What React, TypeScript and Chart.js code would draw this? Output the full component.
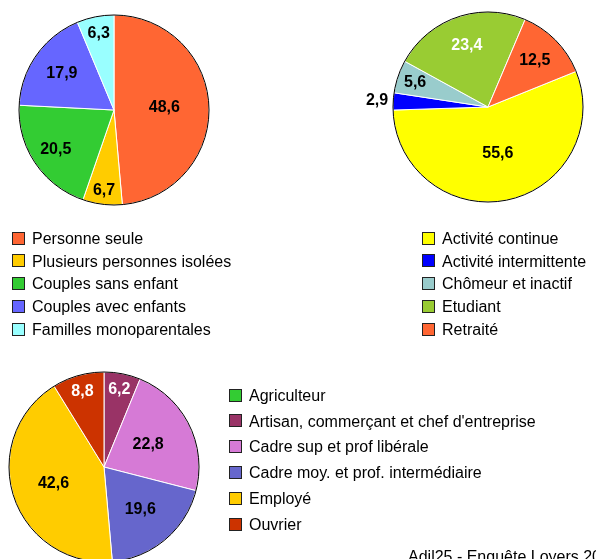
import { useEffect, useRef } from "react";
import { Chart, registerables } from "chart.js";

Chart.register(...registerables);

const W = 596;
const H = 559;
const FONT = '"Liberation Sans", Arial, Helvetica, sans-serif';

// Type de ménage
const householdLabels = [
  "Personne seule",
  "Plusieurs personnes isolées",
  "Couples sans enfant",
  "Couples avec enfants",
  "Familles monoparentales",
];
const householdValues = [48.6, 6.7, 20.5, 17.9, 6.3];
const householdColors = ["#FF6633", "#FFCC00", "#33CC33", "#6666FF", "#99FFFF"];

// Activité
const activityLabels = [
  "Activité continue",
  "Activité intermittente",
  "Chômeur et inactif",
  "Etudiant",
  "Retraité",
];
const activityValues = [55.6, 2.9, 5.6, 23.4, 12.5];
const activityColors = ["#FFFF00", "#0000FF", "#99CCCC", "#99CC33", "#FF6633"];

// Catégorie socio-professionnelle
const csLabels = [
  "Agriculteur",
  "Artisan, commerçant et chef d'entreprise",
  "Cadre sup et prof libérale",
  "Cadre moy. et prof. intermédiaire",
  "Employé",
  "Ouvrier",
];
const csValues = [0, 6.2, 22.8, 19.6, 42.6, 8.8];
const csColors = ["#33CC33", "#993366", "#D67AD6", "#6666CC", "#FFCC00", "#CC3300"];

const sourceText = "Adil25 - Enquête Loyers 2010";

type DecorOpts = {
  radii: number[];
  textColors: string[];
  legend: { boxX: number; textX: number; firstY: number; step: number };
  note?: { text: string; x: number; y: number };
};

// Draws the outline, value labels, legend and note for a single pie
const pieDecor = {
  id: "pieDecor",
  afterDatasetsDraw(chart: any, _args: any, opts: DecorOpts) {
    const ctx: CanvasRenderingContext2D = chart.ctx;
    const meta = chart.getDatasetMeta(0);
    const ds = chart.data.datasets[0];
    const labels: string[] = chart.data.labels;
    const colors: string[] = ds.backgroundColor;
    ctx.save();

    const c = meta.data[0].getProps(["x", "y", "outerRadius"], true);
    ctx.beginPath();
    ctx.arc(c.x, c.y, c.outerRadius, 0, Math.PI * 2);
    ctx.strokeStyle = "#000";
    ctx.lineWidth = 1;
    ctx.stroke();

    ctx.font = `bold 16px ${FONT}`;
    ctx.textAlign = "center";
    ctx.textBaseline = "middle";
    meta.data.forEach((arc: any, i: number) => {
      const v = ds.data[i];
      if (!v) return;
      const p = arc.getProps(["startAngle", "endAngle", "x", "y", "outerRadius"], true);
      const mid = (p.startAngle + p.endAngle) / 2;
      const r = p.outerRadius * opts.radii[i];
      ctx.fillStyle = opts.textColors[i];
      ctx.fillText(
        v.toFixed(1).replace(".", ","),
        p.x + Math.cos(mid) * r,
        p.y + Math.sin(mid) * r
      );
    });

    const lg = opts.legend;
    ctx.font = `16px ${FONT}`;
    ctx.textAlign = "left";
    ctx.textBaseline = "alphabetic";
    labels.forEach((lab, i) => {
      const cy = lg.firstY + i * lg.step;
      const top = Math.round(cy - 6.5);
      ctx.fillStyle = colors[i];
      ctx.fillRect(lg.boxX, top, 13, 13);
      ctx.strokeStyle = "#222";
      ctx.lineWidth = 1;
      ctx.strokeRect(lg.boxX + 0.5, top + 0.5, 12, 12);
      ctx.fillStyle = "#000";
      ctx.fillText(lab, lg.textX, cy + 5.8);
    });

    if (opts.note) {
      ctx.fillStyle = "#000";
      ctx.fillText(opts.note.text, opts.note.x, opts.note.y);
    }
    ctx.restore();
  },
};

type PieProps = {
  labels: string[];
  values: number[];
  colors: string[];
  rotation: number;
  padding: { left: number; right: number; top: number; bottom: number };
  decor: DecorOpts;
};

function PieCanvas({ labels, values, colors, rotation, padding, decor }: PieProps) {
  const ref = useRef<HTMLCanvasElement | null>(null);
  useEffect(() => {
    if (!ref.current) return;
    const chart = new Chart(ref.current, {
      type: "pie",
      data: {
        labels,
        datasets: [
          {
            data: values,
            backgroundColor: colors,
            borderColor: "#FFFFFF",
            borderWidth: 1,
            hoverOffset: 0,
          },
        ],
      },
      options: {
        responsive: false,
        animation: false,
        rotation,
        radius: 95,
        layout: { padding },
        events: [],
        plugins: {
          legend: { display: false },
          tooltip: { enabled: false },
          pieDecor: decor,
        } as any,
      },
      plugins: [pieDecor as any],
    });
    return () => chart.destroy();
  }, []);
  return (
    <canvas
      ref={ref}
      width={W}
      height={H}
      style={{ position: "absolute", left: 0, top: 0, width: W, height: H }}
    />
  );
}

export default function App() {
  return (
    <div
      style={{
        position: "absolute",
        left: 0,
        top: 0,
        width: W,
        height: H,
        background: "#fff",
        overflow: "hidden",
      }}
    >
      <PieCanvas
        labels={householdLabels}
        values={householdValues}
        colors={householdColors}
        rotation={0}
        padding={{ left: 19, right: 387, top: 15, bottom: 354 }}
        decor={{
          radii: [0.53, 0.86, 0.74, 0.67, 0.82],
          textColors: ["#000", "#000", "#000", "#000", "#000"],
          legend: { boxX: 12, textX: 32, firstY: 238, step: 22.75 },
        }}
      />
      <PieCanvas
        labels={activityLabels}
        values={activityValues}
        colors={activityColors}
        rotation={68}
        padding={{ left: 393, right: 13, top: 12, bottom: 357 }}
        decor={{
          radii: [0.5, 1.17, 0.81, 0.68, 0.69],
          textColors: ["#000", "#000", "#000", "#FFF", "#000"],
          legend: { boxX: 422, textX: 442, firstY: 238, step: 22.75 },
        }}
      />
      <PieCanvas
        labels={csLabels}
        values={csValues}
        colors={csColors}
        rotation={0}
        padding={{ left: 39, right: 427, top: 402, bottom: 27 }}
        decor={{
          radii: [0, 0.83, 0.52, 0.59, 0.56, 0.83],
          textColors: ["#000", "#FFF", "#000", "#000", "#000", "#FFF"],
          legend: { boxX: 229, textX: 249, firstY: 395, step: 25.8 },
          note: { text: sourceText, x: 408, y: 562 },
        }}
      />
    </div>
  );
}
